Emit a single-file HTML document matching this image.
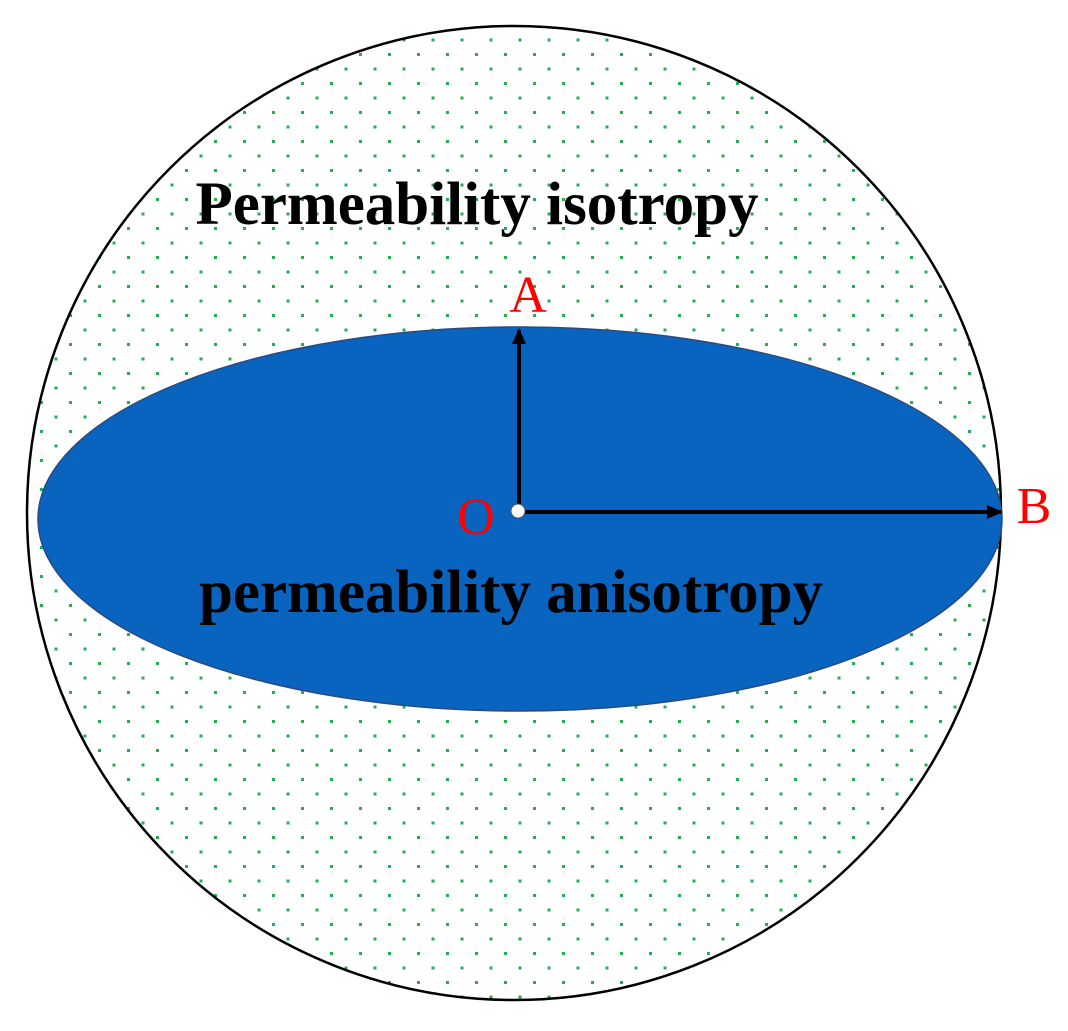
<!DOCTYPE html>
<html><head><style>body{margin:0;background:#fff}</style></head><body>
<svg width="1068" height="1026" viewBox="0 0 1068 1026" xmlns="http://www.w3.org/2000/svg">
<defs>
<pattern id="d" width="29" height="29" patternUnits="userSpaceOnUse" x="114" y="765">
<rect x="-1.5" y="-1.5" width="3" height="3" fill="#22b04a"/>
<rect x="13" y="13" width="3" height="3" fill="#22b04a"/>
<rect x="27.5" y="-1.5" width="3" height="3" fill="#22b04a"/>
<rect x="-1.5" y="27.5" width="3" height="3" fill="#22b04a"/>
<rect x="27.5" y="27.5" width="3" height="3" fill="#22b04a"/>
</pattern>
<marker id="a" markerWidth="16" markerHeight="14" refX="14" refY="7" orient="auto" markerUnits="userSpaceOnUse"><path d="M0,0 L16,7 L0,14 Z" fill="#000"/></marker>
</defs>
<circle cx="514" cy="513" r="487" fill="url(#d)" stroke="#000" stroke-width="2.5"/>
<ellipse cx="520" cy="519" rx="482" ry="192" fill="#0864be" stroke="#2a4a80" stroke-width="1.5"/>
<line x1="519" y1="512" x2="519" y2="330" stroke="#000" stroke-width="4" marker-end="url(#a)"/>
<line x1="519" y1="512" x2="1001" y2="512" stroke="#000" stroke-width="4" marker-end="url(#a)"/>
<circle cx="518" cy="511" r="7" fill="#fff" stroke="#555" stroke-width="1"/>
<g font-family="Liberation Serif, serif">
<text x="477" y="224" text-anchor="middle" font-size="61" font-weight="bold">Permeability isotropy</text>
<text x="511" y="612" text-anchor="middle" font-size="61" font-weight="bold">permeability anisotropy</text>
<text x="528" y="312" text-anchor="middle" font-size="52" fill="#f00">A</text>
<text x="476" y="534" text-anchor="middle" font-size="52" fill="#f00">O</text>
<text x="1034" y="523" text-anchor="middle" font-size="52" fill="#f00">B</text>
</g>
</svg>
</body></html>
